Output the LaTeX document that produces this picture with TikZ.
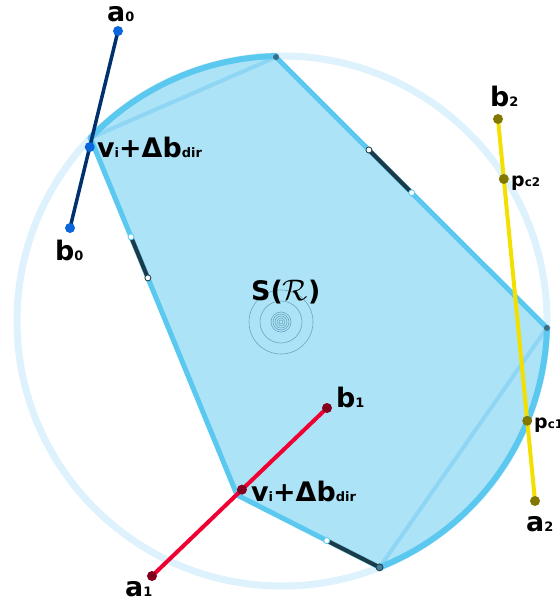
\documentclass[tikz,border=0pt]{standalone}
\usepackage{fontspec}
\setmainfont{DejaVu Sans}
\usetikzlibrary{calc}
\definecolor{regionfill}{HTML}{ADE3F7}
\definecolor{regionedge}{HTML}{5BC8F0}
\definecolor{ringblue}{HTML}{DDF2FC}
\definecolor{chordblue}{HTML}{8ED6F4}
\definecolor{segdark}{HTML}{1E3A46}
\definecolor{markdark}{HTML}{3A6E86}
\definecolor{spiralblue}{HTML}{6AA6C0}
\definecolor{dotblue}{HTML}{0B66DC}
\definecolor{linenavy}{HTML}{00306E}
\definecolor{dotred}{HTML}{82001E}
\definecolor{linered}{HTML}{F00032}
\definecolor{dotolive}{HTML}{827800}
\definecolor{lineyellow}{HTML}{F4E000}
\newcommand{\bigtxt}[1]{{\fontsize{27}{27}\selectfont #1}}
\newcommand{\subtxt}[1]{{\fontsize{13}{13}\selectfont #1}}

\begin{document}
\begin{tikzpicture}[x=1bp,y=-1bp,
  ring/.style={draw=ringblue,line width=7bp},
  edge/.style={draw=regionedge,line width=5bp,line join=round,line cap=round},
  chord/.style={draw=chordblue,line width=4bp},
  hiseg/.style={draw=segdark,line width=4bp},
  segmark/.style={fill=white,draw=#1,line width=0.8bp},
  spiral/.style={draw=spiralblue,line width=0.6bp},
  lbl/.style={font=\bfseries,inner sep=0pt,anchor=base west}]
  \useasboundingbox (0,0) rectangle (560,604);
  \clip (0,0) rectangle (560,604);
  \coordinate (O) at (282,321);
  \coordinate (vA) at ($(O)+(223.7:265)$);
  \coordinate (vB) at ($(O)+(268.7:264)$);
  \coordinate (vC) at ($(O)+(1.5:265)$);
  \coordinate (vD) at ($(O)+(68.4:265)$);
  \coordinate (vE) at (237,495);
  % circle round the region
  \draw[ring] (O) circle (265);
  \fill[regionfill] (vA) arc[start angle=223.7,end angle=268.7,radius=265]
    -- (vC) arc[start angle=1.5,end angle=68.4,radius=265] -- (vE) -- cycle;
  \draw[chord] (vA) -- (vB) (vC) -- (vD);
  \draw[edge] (vB) -- (vC) (vD) -- (vE) -- (vA);
  \draw[edge,line width=6bp] (vA) arc[start angle=223.7,end angle=268.7,radius=265];
  \draw[edge,line width=6bp] (vC) arc[start angle=1.5,end angle=68.4,radius=265];
  % dark pieces of the edges
  \coordinate (s1) at ($(vB)!0.343!(vC)$);
  \coordinate (s2) at ($(vB)!0.501!(vC)$);
  \coordinate (s3) at ($(vA)!0.277!(vE)$);
  \coordinate (s4) at ($(vA)!0.392!(vE)$);
  \coordinate (s5) at ($(vE)!0.63!(vD)$);
  \draw[hiseg] (s1) -- (s2) (s3) -- (s4) (s5) -- (vD);
  \fill[markdark] (vB) circle (3) (vC) circle (3);
  \draw[fill=markdark!80!regionedge,draw=segdark,line width=0.8bp] (vD) circle (3.5);
  \draw[segmark=segdark] (s1) circle (3) (s4) circle (3);
  \draw[segmark=regionedge] (s2) circle (3) (s3) circle (3) (s5) circle (3);
  % rings in the middle
  \foreach \r in {2,4,6,8,10,21,32}
    \draw[spiral] (281,322) circle (\r);
  \node[lbl] (lS) at (251,300) {\bigtxt{S(\scalebox{1.2}{$\mathcal{R}$})}};
  % segment 0
  \coordinate (a0) at (118,31);
  \coordinate (b0) at (70,228);
  \coordinate (v0) at ($(a0)!0.589!(b0)$);
  \draw[linenavy,line width=3.5bp] (a0) -- (b0);
  \fill[dotblue] (a0) circle (5) (b0) circle (5) (v0) circle (5);
  % segment 1
  \coordinate (a1) at (152,576);
  \coordinate (b1) at (327,408);
  \coordinate (v1) at ($(a1)!0.514!(b1)$);
  \draw[linered,line width=4bp] (a1) -- (b1);
  \fill[dotred] (a1) circle (5) (b1) circle (5) (v1) circle (5);
  % segment 2
  \coordinate (b2) at (498,119);
  \coordinate (a2) at (535,501);
  \coordinate (pc2) at ($(b2)!0.157!(a2)$);
  \coordinate (pc1) at ($(b2)!0.79!(a2)$);
  \draw[lineyellow,line width=4bp] (b2) -- (a2);
  \fill[dotolive] (b2) circle (5) (a2) circle (5) (pc2) circle (5) (pc1) circle (5);
  % labels
  \node[lbl] (la0) at (107,22) {\bigtxt{a}\subtxt{0}};
  \node[lbl] (lb0) at (55,260) {\bigtxt{b}\subtxt{0}};
  \node[lbl] (lv0) at (97,158) {\bigtxt{v}\subtxt{i}\bigtxt{+Δb}\subtxt{dir}};
  \node[lbl] (la1) at (125,596) {\bigtxt{a}\subtxt{1}};
  \node[lbl] (lb1) at (336,407) {\bigtxt{b}\subtxt{1}};
  \node[lbl] (lv1) at (251,501) {\bigtxt{v}\subtxt{i}\bigtxt{+Δb}\subtxt{dir}};
  \node[lbl] (lb2) at (490,107) {\bigtxt{b}\subtxt{2}};
  \node[lbl] (la2) at (526,531) {\bigtxt{a}\subtxt{2}};
  \node[lbl] (lpc2) at (511,186) {{\fontsize{19}{19}\selectfont p}{\fontsize{12}{12}\selectfont c2}};
  \node[lbl] (lpc1) at (534,428) {{\fontsize{19}{19}\selectfont p}{\fontsize{12}{12}\selectfont c1}};
\end{tikzpicture}
\end{document}
